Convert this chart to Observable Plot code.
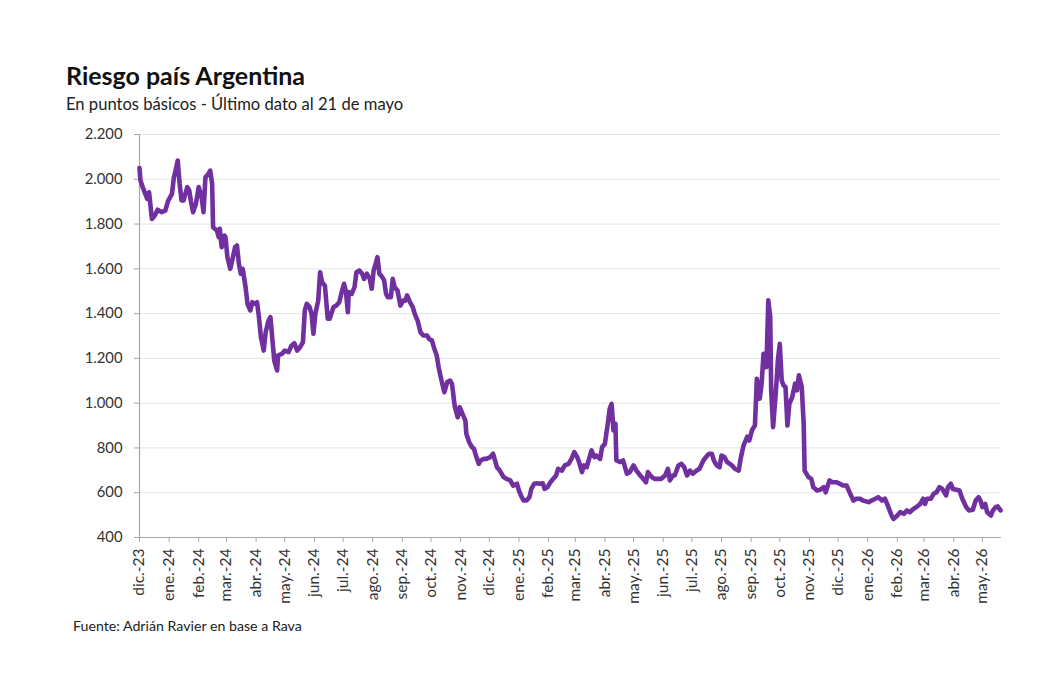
<!DOCTYPE html>
<html lang="es">
<head>
<meta charset="utf-8">
<script src="https://cdn.jsdelivr.net/npm/d3@7"></script>
<script src="https://cdn.jsdelivr.net/npm/@observablehq/plot@0.6"></script>
<style>
  body { margin: 0; background: #fff; font-family: Lato, "Open Sans", sans-serif; }
  #lienzo { position: relative; width: 1041px; height: 679px; overflow: hidden; }
  #titulo { position: absolute; left: 66px; top: 62.5px; font-size: 25px; line-height: 1; font-weight: 700; color: #111; white-space: nowrap; }
  #subtitulo { position: absolute; left: 66px; top: 96px; font-size: 16.6px; line-height: 1; color: #222; white-space: nowrap; }
  #grafico { position: absolute; left: 0; top: 120px; }
  #fuente { position: absolute; left: 73px; top: 619px; font-size: 14.2px; line-height: 1; color: #222; white-space: nowrap; }
</style>
</head>
<body>
<div id="lienzo">
  <div id="titulo">Riesgo país Argentina</div>
  <div id="subtitulo">En puntos básicos - Último dato al 21 de mayo</div>
  <div id="grafico"></div>
  <div id="fuente">Fuente: Adrián Ravier en base a Rava</div>
</div>
<script>
// Serie diaria del riesgo país: días transcurridos desde el 1 de diciembre de 2023 y valor en puntos básicos
const inicio = "2023-12-01";
const fin = "2026-05-21";

const dias = [
  0, 1, 4, 8, 10, 13, 16, 19, 23, 27, 30, 34, 36, 37, 40, 42, 44, 46, 50, 52,
  54, 56, 59, 62, 65, 67, 69, 72, 74, 76, 77, 81, 83, 84, 86, 89, 90, 92, 95, 97,
  100, 102, 104, 106, 108, 111, 113, 116, 118, 121, 123, 125, 127, 130, 132, 135, 137, 139, 141, 144,
  145, 149, 152, 156, 159, 162, 165, 168, 171, 173, 175, 178, 180, 182, 184, 187, 189, 191, 194, 197,
  199, 203, 206, 209, 212, 214, 216, 218, 219, 222, 225, 227, 230, 233, 235, 238, 241, 243, 245, 248,
  249, 251, 254, 256, 258, 260, 263, 265, 267, 270, 273, 276, 278, 280, 283, 286, 288, 291, 294, 297,
  301, 303, 306, 308, 311, 313, 316, 319, 322, 325, 327, 330, 333, 335, 338, 341, 342, 345, 348, 350,
  352, 355, 357, 360, 363, 367, 370, 372, 374, 377, 381, 384, 388, 391, 395, 397, 400, 402, 405, 408,
  410, 413, 416, 419, 422, 424, 427, 430, 433, 436, 438, 442, 445, 449, 452, 455, 458, 460, 463, 465,
  468, 470, 473, 476, 478, 482, 484, 487, 490, 492, 494, 496, 498, 499, 503, 506, 510, 513, 517, 520,
  524, 527, 530, 532, 536, 539, 543, 546, 550, 553, 555, 558, 560, 564, 567, 570, 573, 576, 579, 583,
  586, 590, 594, 596, 599, 601, 604, 607, 609, 612, 615, 620, 623, 627, 629, 632, 636, 638, 641, 644,
  646, 649, 651, 653, 656, 658, 660, 661, 663, 666, 668, 670, 672, 674, 676, 678, 680, 683, 686, 688,
  690, 693, 695, 696, 700, 703, 705, 709, 712, 716, 718, 722, 725, 729, 733, 736, 740, 743, 747, 750,
  754, 757, 763, 766, 770, 773, 777, 780, 783, 787, 789, 793, 796, 800, 803, 806, 810, 813, 817, 820,
  822, 824, 828, 831, 834, 837, 840, 844, 846, 849, 851, 855, 858, 861, 865, 868, 872, 875, 878, 880,
  882, 885, 887, 891, 893, 896, 898, 901
];

const puntos = [
  2050, 1995, 1957, 1913, 1942, 1823, 1838, 1864, 1853, 1860, 1905, 1935, 2009, 2024, 2084, 1980, 1905, 1905, 1965, 1950,
  1898, 1853, 1890, 1965, 1920, 1853, 2009, 2024, 2039, 1980, 1786, 1771, 1741, 1779, 1697, 1749, 1741, 1652, 1600, 1637,
  1697, 1704, 1622, 1578, 1600, 1518, 1444, 1414, 1451, 1444, 1451, 1384, 1295, 1235, 1317, 1369, 1384, 1287, 1190, 1146,
  1213, 1220, 1235, 1228, 1257, 1268, 1235, 1250, 1272, 1414, 1444, 1429, 1399, 1310, 1399, 1458, 1585, 1540, 1525, 1377,
  1377, 1429, 1436, 1451, 1503, 1533, 1500, 1406, 1496, 1488, 1518, 1585, 1592, 1578, 1555, 1578, 1555, 1511, 1592, 1637,
  1652, 1578, 1563, 1548, 1488, 1473, 1473, 1555, 1518, 1503, 1436, 1458, 1458, 1481, 1451, 1429, 1399, 1369, 1317, 1302,
  1302, 1287, 1280, 1250, 1213, 1161, 1101, 1049, 1094, 1101, 1086, 982, 937, 982, 952, 922, 863, 825, 803, 796,
  766, 729, 744, 751, 751, 759, 774, 744, 714, 699, 670, 662, 655, 632, 640, 610, 580, 565, 565, 580,
  617, 640, 642, 640, 642, 617, 625, 647, 662, 677, 707, 699, 722, 729, 751, 781, 759, 737, 692, 722,
  714, 744, 789, 759, 766, 751, 803, 819, 908, 975, 997, 878, 908, 744, 737, 744, 685, 692, 722, 699,
  677, 662, 647, 692, 670, 662, 662, 662, 677, 707, 655, 677, 677, 722, 729, 714, 677, 699, 685, 699,
  707, 744, 766, 774, 774, 744, 722, 714, 766, 759, 737, 722, 707, 699, 751, 810, 850, 833, 880, 900,
  1109, 1020, 1087, 1221, 1161, 1459, 1384, 1057, 893, 1057, 1190, 1265, 1101, 1079, 1072, 900, 997, 1027, 1087, 1057,
  1124, 1072, 908, 699, 670, 662, 625, 610, 613, 625, 602, 655, 647, 647, 640, 632, 632, 602, 565, 573,
  573, 565, 558, 565, 573, 580, 565, 573, 543, 498, 483, 498, 513, 506, 521, 513, 528, 536, 550, 573,
  550, 573, 573, 595, 602, 625, 617, 588, 625, 640, 617, 613, 610, 573, 536, 521, 524, 565, 580, 565,
  536, 550, 513, 498, 521, 536, 539, 521
];

// Marcas del eje vertical y rótulos mensuales del eje horizontal
const marcasY = [400, 600, 800, 1000, 1200, 1400, 1600, 1800, 2000, 2200];
const rotulosMes = [
  "dic.-23", "ene.-24", "feb.-24", "mar.-24", "abr.-24", "may.-24", "jun.-24", "jul.-24", "ago.-24",
  "sep.-24", "oct.-24", "nov.-24", "dic.-24", "ene.-25", "feb.-25", "mar.-25", "abr.-25", "may.-25",
  "jun.-25", "jul.-25", "ago.-25", "sep.-25", "oct.-25", "nov.-25", "dic.-25", "ene.-26", "feb.-26",
  "mar.-26", "abr.-26", "may.-26"
];

const origen = new Date(inicio + "T00:00:00Z");
const final = new Date(fin + "T00:00:00Z");
const serie = dias.map((d, i) => ({ fecha: d3.utcDay.offset(origen, d), valor: puntos[i] }));

const meses = rotulosMes.map((_, i) => d3.utcMonth.offset(origen, i));
const rotuloPorMes = new Map(meses.map((m, i) => [+m, rotulosMes[i]]));

const es = d3.formatLocale({ decimal: ",", thousands: ".", grouping: [3], currency: ["$", ""] });
const miles = es.format(",");

const gris = "#a6a6a6";

const grafico = Plot.plot({
  width: 1041,
  height: 500,
  marginTop: 14,
  marginBottom: 83,
  marginLeft: 139,
  marginRight: 40,
  style: { fontFamily: "Lato, 'Open Sans', sans-serif", fontSize: "14.5px", color: "#333", background: "transparent" },
  x: { type: "utc", domain: [origen, final] },
  y: { domain: [400, 2200] },
  marks: [
    Plot.gridY(marcasY.filter((v) => v > 400), { stroke: "#e4e4e4", strokeOpacity: 1, strokeWidth: 1 }),
    Plot.axisY(marcasY, { tickFormat: miles, tickSize: 5, tickPadding: 12, stroke: gris, fill: "#333", fontSize: 14.8, label: null }),
    Plot.axisX(meses, {
      tickFormat: (d) => rotuloPorMes.get(+d),
      tickRotate: -90,
      tickSize: 5,
      tickPadding: 6,
      stroke: gris,
      fill: "#333",
      fontSize: 15.5,
      label: null
    }),
    Plot.ruleY([400], { stroke: gris, strokeWidth: 1.2 }),
    Plot.ruleX([origen], { y1: 400, y2: 2200, stroke: gris, strokeWidth: 1.2 }),
    Plot.line(serie, { x: "fecha", y: "valor", stroke: "#7030a0", strokeWidth: 4.6, strokeLinejoin: "round", strokeLinecap: "round" })
  ]
});

document.getElementById("grafico").append(grafico);
</script>
</body>
</html>
